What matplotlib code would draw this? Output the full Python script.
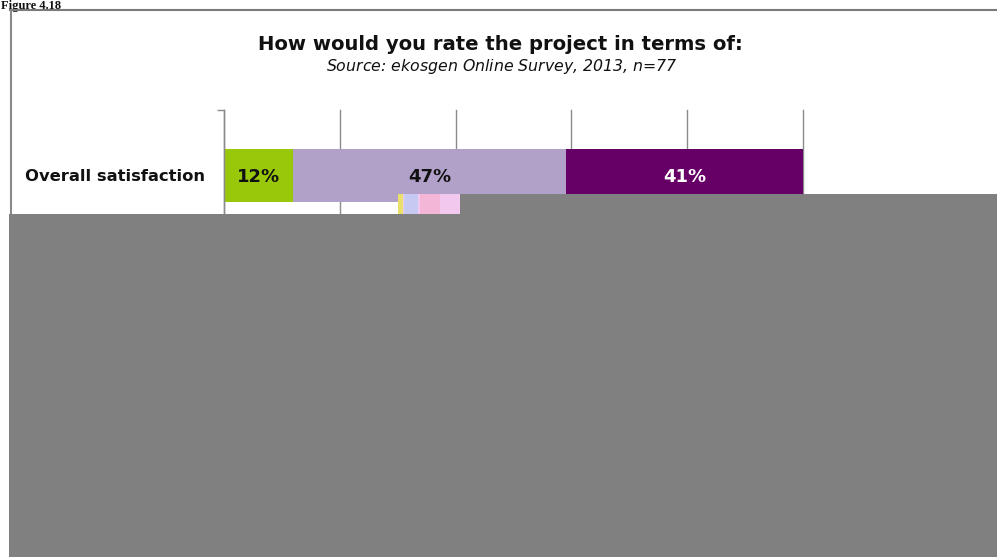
import matplotlib
matplotlib.use('Agg')
import matplotlib.pyplot as plt
from matplotlib.patches import Rectangle
from matplotlib.lines import Line2D

W, H = 997, 557

caption = 'Figure 4.18'
title = 'How would you rate the project in terms of:'
subtitle = 'Source: ekosgen Online Survey, 2013, $n$=77'

categories = ['Overall satisfaction']
shares = [12, 47, 41]
seg_colors = ['#99c70a', '#b1a0c7', '#660066']
label_colors = ['#111111', '#111111', '#ffffff']
xticks = [0, 20, 40, 60, 80, 100]


def fx(x):
    return x / W


def fy(y):
    return 1 - y / H


fig = plt.figure(figsize=(W / 100, H / 100), dpi=100)
fig.patch.set_facecolor('white')

# plot area in pixel terms: left 224, right 803, top 110
ax = fig.add_axes([fx(224), fy(330), fx(803 - 224), (330 - 110) / H])
ax.set_xlim(0, 100)
ax.set_ylim(1.18, -0.5)

left = 0
for v, c, tc in zip(shares, seg_colors, label_colors):
    ax.barh(0, v, left=left, height=0.405, color=c, zorder=2)
    ax.text(left + v / 2, 0.01, f'{v}%', ha='center', va='center',
            color=tc, fontsize=13, fontweight='bold', family='DejaVu Sans', zorder=3)
    left += v

ax.set_xticks(xticks)
ax.xaxis.grid(True, color='#8a8a8a', lw=1, zorder=1)
for gl in ax.get_xgridlines():
    gl.set_clip_on(False)
ax.tick_params(axis='x', length=0, labelbottom=False)
ax.set_yticks([0])
ax.set_yticklabels(categories, fontsize=11.8, fontweight='bold', family='DejaVu Sans',
                   color='#111111')
ax.tick_params(axis='y', which='major', length=0, pad=14)
ax.set_yticks([-0.5], minor=True)
ax.tick_params(axis='y', which='minor', length=5, width=1, color='#8a8a8a', direction='out')
for s in ['top', 'right', 'bottom']:
    ax.spines[s].set_visible(False)
ax.spines['left'].set_color('#8a8a8a')
ax.spines['left'].set_linewidth(1)

fig.text(fx(500), fy(45), title, ha='center', va='center', fontsize=14.1,
         fontweight='bold', family='DejaVu Sans', color='#111111')
fig.text(fx(502), fy(67), subtitle, ha='center', va='center', fontsize=11.3,
         style='italic', family='DejaVu Sans', color='#111111')

# caption above the frame
fig.text(fx(1), fy(0.5), caption, ha='left', va='top', fontsize=9,
         fontweight='bold', family='Liberation Serif', color='#111111')

# frame lines
fig.add_artist(Line2D([fx(10), fx(997)], [fy(9.5), fy(9.5)], transform=fig.transFigure,
                      color='#7a7a7a', lw=1.5, zorder=5))
fig.add_artist(Line2D([fx(10.5), fx(10.5)], [fy(9.5), fy(214)], transform=fig.transFigure,
                      color='#8a8a8a', lw=1.5, zorder=5))

# grey overlay covering the lower part
fig.add_artist(Rectangle((fx(9), 0), fx(997 - 9), fy(214), transform=fig.transFigure,
                         facecolor='#808080', edgecolor='none', zorder=10))
fig.add_artist(Rectangle((fx(460), fy(214)), fx(997 - 460), (214 - 194) / H,
                         transform=fig.transFigure, facecolor='#808080',
                         edgecolor='none', zorder=10))
# small garbled strip next to it
strip = [('#f2c8ef', 398, 460), ('#f4b6d6', 420, 440), ('#c6c9f2', 404, 418),
         ('#e8e06a', 398, 403)]
for col, x0, x1 in strip:
    fig.add_artist(Rectangle((fx(x0), fy(214)), fx(x1 - x0), (214 - 194) / H,
                             transform=fig.transFigure, facecolor=col,
                             edgecolor='none', zorder=9))

fig.savefig('out.png', dpi=100)
